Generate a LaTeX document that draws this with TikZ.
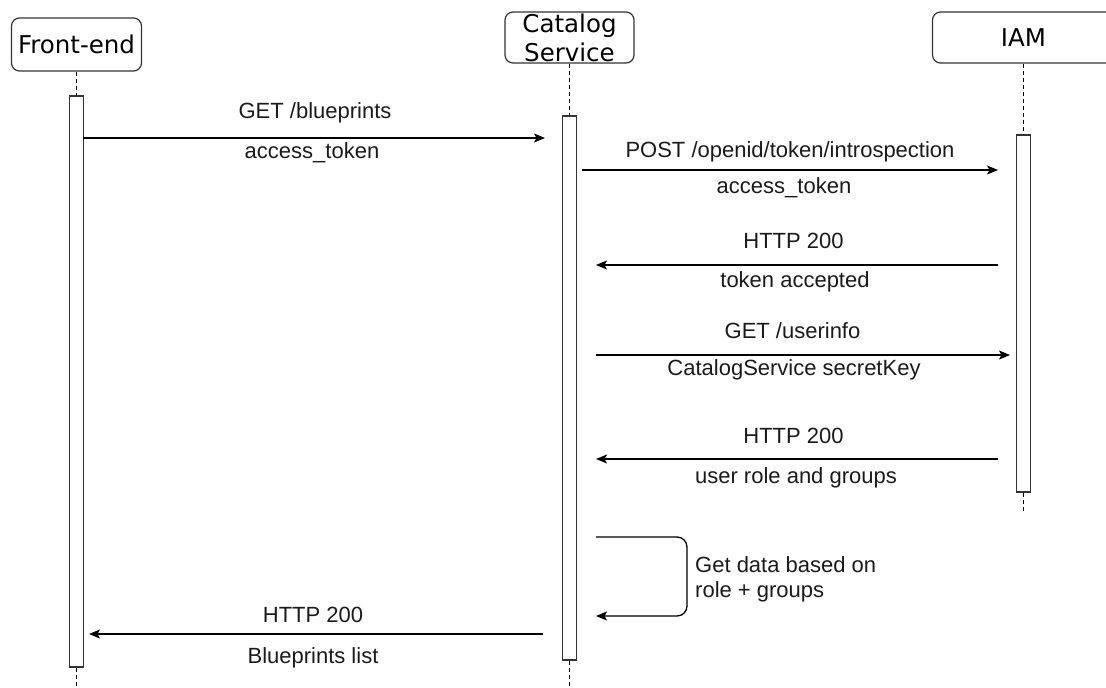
\documentclass[tikz,border=0pt]{standalone}
\usepackage{fontspec}
\setmainfont{Liberation Sans}
\newfontfamily\headfont{DejaVu Sans}
\usetikzlibrary{arrows.meta, positioning, calc}

\definecolor{linecol}{HTML}{333333}
\definecolor{txtcol}{HTML}{1A1A1A}

\tikzset{
  head/.style={draw=linecol, line width=1.2pt, rounded corners=8pt, fill=white,
    inner sep=0pt, align=center, text=black,
    font=\headfont\fontsize{24.5}{29}\selectfont},
  bar/.style={draw=linecol, line width=1.2pt, fill=white, inner sep=0pt,
    minimum width=13.5pt},
  life/.style={line width=1.1pt, dash pattern=on 4pt off 3pt},
  msg/.style={line width=1.3pt, draw=black,
    -{Stealth[length=11pt, width=9pt, inset=2.5pt]}},
  lbl/.style={anchor=base, inner sep=0pt, text=txtcol,
    font=\fontsize{22}{25}\selectfont},
}

\begin{document}
\begin{tikzpicture}[x=1pt, y=-1pt]
    \clip (0,0) rectangle (1106,688);

    % Lifeline heads
    \node[head, minimum width=130pt, minimum height=53pt] (fehead) at (76.5,44.5) {Front-end};
    \node[head, minimum width=129pt, minimum height=51pt] (cshead) at (569.5,37.5) {Catalog\\Service};
    \node[head, minimum width=182pt, minimum height=51pt] (iamhead) at (1023.5,37.5) {IAM};

    % Activation bars
    \node[bar, minimum height=571pt] (febar) at (76.5,381.5) {};
    \node[bar, minimum height=544pt] (csbar) at (569.5,388) {};
    \node[bar, minimum height=357pt] (iambar) at (1023.5,313.5) {};

    % Lifelines
    \coordinate (feend) at (76.5,688);
    \coordinate (csend) at (569.5,688);
    \coordinate (iamend) at (1023.5,512);
    \draw[life] (fehead.south) -- (febar.north);
    \draw[life] (febar.south) -- (feend);
    \draw[life] (cshead.south) -- (csbar.north);
    \draw[life] (csbar.south) -- (csend);
    \draw[life] (iamhead.south) -- (iambar.north);
    \draw[life] (iambar.south) -- (iamend);

    % Message ends
    \coordinate (m1a) at (83,138);    \coordinate (m1b) at (545,138);
    \coordinate (m2a) at (582,170);   \coordinate (m2b) at (998,170);
    \coordinate (m3a) at (998,265);   \coordinate (m3b) at (596,265);
    \coordinate (m4a) at (596,355);   \coordinate (m4b) at (1010,355);
    \coordinate (m5a) at (998,459);   \coordinate (m5b) at (596,459);
    \coordinate (m7a) at (543,634);   \coordinate (m7b) at (89,634);

    % Messages
    \draw[msg] (m1a) -- (m1b);
    \draw[msg] (m2a) -- (m2b);
    \draw[msg] (m3a) -- (m3b);
    \draw[msg] (m4a) -- (m4b);
    \draw[msg] (m5a) -- (m5b);
    \draw[msg] (m7a) -- (m7b);

    % Self call
    \coordinate (loopa) at (596,537);
    \coordinate (loopb) at (687,537);
    \coordinate (loopc) at (687,616);
    \coordinate (loopd) at (596,616);
    \draw[msg, rounded corners=10pt] (loopa) -- (loopb) -- (loopc) -- (loopd);

    % Labels
    \node[lbl] (l1a) at (315,118) {GET /blueprints};
    \node[lbl] (l1b) at (312,158) {access\_token};
    \node[lbl] (l2a) at (790,157) {POST /openid/token/introspection};
    \node[lbl] (l2b) at (784,193) {access\_token};
    \node[lbl] (l3a) at (793.5,248) {HTTP 200};
    \node[lbl] (l3b) at (795,287) {token accepted};
    \node[lbl] (l4a) at (792.5,338) {GET /userinfo};
    \node[lbl] (l4b) at (794,375) {CatalogService secretKey};
    \node[lbl] (l5a) at (793.5,443) {HTTP 200};
    \node[lbl] (l5b) at (796,483) {user role and groups};
    \node[lbl, anchor=base west, align=left] (l6) at (695,597) {Get data based on\\role + groups};
    \node[lbl] (l7a) at (313,622) {HTTP 200};
    \node[lbl] (l7b) at (313,663) {Blueprints list};
\end{tikzpicture}
\end{document}
